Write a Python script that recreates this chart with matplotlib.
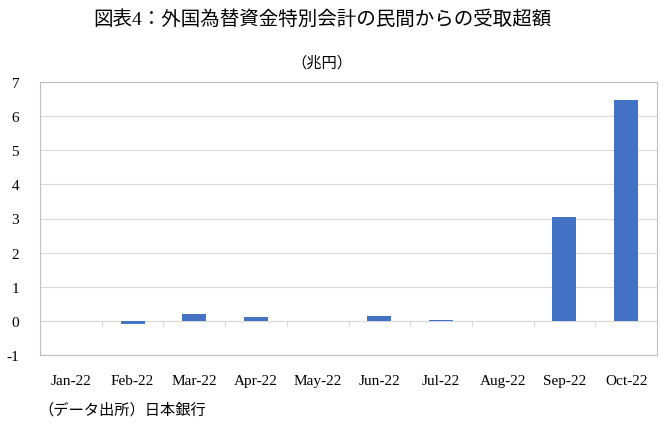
import matplotlib.pyplot as plt
import numpy as np

plt.rcParams['font.family'] = ['Liberation Serif', 'Noto Sans CJK JP']

months = ['Jan-22', 'Feb-22', 'Mar-22', 'Apr-22', 'May-22',
          'Jun-22', 'Jul-22', 'Aug-22', 'Sep-22', 'Oct-22']
values = [0.0, -0.08, 0.19, 0.1, 0.0, 0.15, 0.03, 0.0, 3.03, 6.47]

fig = plt.figure(figsize=(6.72, 4.31), dpi=100)
ax = fig.add_axes([40 / 672, 75 / 431, 617 / 672, 273 / 431])

x = np.arange(len(months))
ax.bar(x, values, width=0.39, color='#4472C4', zorder=3)

ax.set_xlim(-0.5, len(months) - 0.5)
ax.set_ylim(-1, 7)
ax.set_yticks(range(-1, 8))
ax.set_yticklabels([str(v) for v in range(-1, 8)])
ax.grid(axis='y', color='#d9d9d9', linewidth=0.8, zorder=0)
for s in ax.spines.values():
    s.set_color('#bfbfbf')
    s.set_linewidth(0.8)

ax.tick_params(axis='y', length=0, pad=15, labelsize=11)
ax.tick_params(axis='x', length=0, pad=14, labelsize=11)
ax.set_xticks(x)
ax.set_xticklabels(months)

# category separators below the zero line
ax.axhline(0, color='#d9d9d9', linewidth=0.8, zorder=2)
for b in np.arange(0.5, len(months) - 1, 1.0):
    ax.plot([b, b], [0, -0.15], color='#d9d9d9', linewidth=0.8, zorder=2)

fig.text(322 / 672, 1 - 20 / 431, '図表4：外国為替資金特別会計の民間からの受取超額',
         ha='center', va='center', fontsize=14)
fig.text(322 / 672, 1 - 63 / 431, '（兆円）', ha='center', va='center', fontsize=11)
fig.text(38 / 672, 1 - 410 / 431, '（データ出所）日本銀行', ha='left', va='center', fontsize=11)

fig.savefig('out.png', dpi=100)
